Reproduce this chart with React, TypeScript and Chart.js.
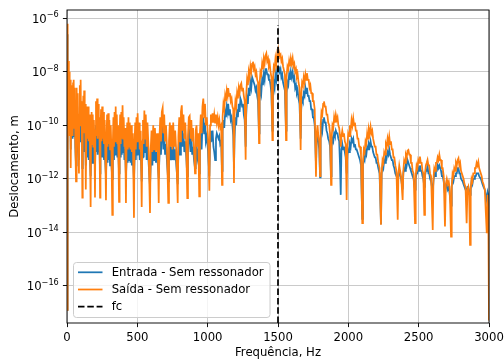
import React, { useEffect, useRef } from 'react';
import { Chart, registerables } from 'chart.js';

Chart.register(...registerables);

// Frequency grid (Hz), one line per lobe between notches
const freqHz: number[] = [
  0, 2, 5, 7, 10, 13, 16, 19, 22, 25,
  28, 31, 34, 37, 40, 43, 46, 49, 52, 55, 59,
  64, 67, 70, 73, 76, 80,
  85, 88, 91, 94, 97, 100, 104,
  109, 112, 116, 119, 122, 126, 129, 132,
  135, 138, 142, 146, 150, 154, 158, 163,
  168, 171, 175, 179, 183, 187, 191, 195,
  199, 202, 206, 210, 214, 218, 222, 226, 230,
  235, 238, 242, 246, 250, 254, 258, 263, 268, 272,
  277, 281, 285, 289, 293, 297, 301, 306, 311, 316,
  322, 326, 330, 334, 338, 342, 346, 350, 354, 358, 363,
  370, 374, 378, 382, 386, 390, 395, 399, 403, 408, 413,
  419, 423, 428, 432, 437, 441, 446, 451, 456, 461, 468,
  476, 480, 485, 489, 494, 498, 502, 507, 512, 517, 524,
  531, 535, 540, 545, 550, 555, 560, 566, 572, 580,
  590, 595, 601, 607, 613, 619, 625, 632, 640, 646,
  652, 657, 663, 668, 674, 680, 685, 691, 697, 704, 711,
  720, 725, 731, 737, 743, 749, 755, 762, 769, 777,
  787, 792, 798, 804, 810, 816, 822, 828, 834, 841, 848,
  855, 860, 866, 872, 878, 884, 890, 896, 903,
  910, 915, 921, 927, 933,
  940, 945, 951, 957, 963, 969, 975, 981, 987, 994, 1003,
  1012, 1017, 1023, 1029, 1035, 1041, 1047, 1053, 1059, 1065, 1071, 1077, 1083, 1089, 1096,
  1102, 1106, 1112, 1118, 1124, 1130, 1136, 1142, 1146, 1152, 1158, 1164, 1170, 1176, 1182,
  1187, 1191, 1197, 1203, 1209, 1215, 1221, 1227, 1233, 1239, 1245, 1251, 1257, 1263,
  1270, 1274, 1280, 1286, 1292, 1298, 1304, 1310, 1316, 1322, 1328, 1334, 1340, 1346, 1352, 1358,
  1365, 1369, 1375, 1381, 1387, 1393, 1399, 1405, 1411, 1417, 1423, 1429, 1435, 1441, 1447, 1453,
  1460, 1464, 1470, 1476, 1482, 1488, 1494, 1500, 1506, 1512, 1518, 1524, 1530, 1536, 1542, 1549,
  1557, 1561, 1567, 1573, 1579, 1585, 1591, 1597, 1604, 1610, 1616, 1622, 1628, 1634, 1640, 1646, 1653,
  1661, 1665, 1671, 1677, 1683, 1689, 1695, 1701, 1706, 1712, 1718, 1724, 1730, 1736, 1742, 1748, 1754, 1761,
  1770, 1775, 1781, 1787, 1793,
  1799, 1803, 1809, 1815, 1821, 1827, 1833, 1839, 1845, 1851, 1857, 1864, 1870,
  1877, 1881, 1887, 1893, 1899, 1905, 1911, 1917, 1923, 1929, 1935, 1941,
  1946, 1951, 1957, 1963, 1969, 1975, 1981,
  1988, 1993, 1999, 2005, 2011, 2017, 2023, 2029, 2035, 2041, 2047, 2053, 2059, 2065, 2071, 2077, 2083, 2090,
  2099, 2104, 2110, 2116, 2122, 2128, 2134, 2140, 2146, 2152, 2158, 2164, 2170, 2176, 2182, 2188, 2194, 2200, 2206, 2213, 2222,
  2232, 2237, 2243, 2249, 2255, 2261, 2267, 2273, 2279, 2285, 2291, 2297, 2303, 2309, 2315, 2321, 2327, 2334, 2342,
  2351, 2356, 2362, 2368, 2375,
  2386, 2391, 2397, 2403, 2409, 2415, 2421, 2427, 2433, 2439, 2445, 2451, 2457, 2464,
  2474, 2479, 2485, 2491, 2497, 2503, 2509, 2515, 2521, 2527, 2533,
  2540, 2545, 2551, 2557, 2563, 2569, 2575, 2581, 2588,
  2600, 2605, 2611, 2617, 2623, 2629, 2635, 2641, 2647, 2653, 2659, 2665, 2671, 2678,
  2687, 2693, 2700, 2707, 2714, 2721,
  2730, 2735, 2741, 2747, 2753, 2759, 2765, 2771, 2777, 2783, 2789, 2795, 2801, 2807, 2813, 2819, 2826, 2833,
  2841, 2847, 2853, 2859,
  2865, 2870, 2876, 2882, 2888, 2894, 2900, 2906, 2912, 2918, 2924, 2930, 2936, 2942, 2948, 2954, 2961, 2970,
  2984, 2990, 2995, 3000,
];

// log10 of displacement (m) – "Saída - Sem ressonador"
const saidaLog: number[] = [
  -16.9, -6.2, -9.5, -11.3, -7.6, -9.8, -8.0, -10.4, -8.3, -9.9,
  -11.6, -8.6, -10.0, -8.5, -10.4, -8.4, -9.8, -8.3, -10.1, -8.6, -10.6,
  -12.1, -9.6, -8.6, -10.0, -8.8, -10.4,
  -11.8, -9.6, -8.5, -9.9, -8.3, -10.0, -9.1,
  -12.7, -9.8, -8.9, -10.3, -8.7, -10.2, -9.2, -10.4,
  -12.4, -10.0, -9.3, -10.5, -9.3, -10.6, -9.6, -10.7,
  -13.05, -10.4, -9.5, -10.7, -9.6, -10.8, -9.8, -10.6,
  -12.7, -10.2, -9.1, -10.4, -9.0, -10.5, -9.2, -10.4, -9.7,
  -12.7, -10.3, -9.4, -10.6, -9.3, -10.5, -9.5, -10.7, -9.8, -10.9,
  -12.8, -10.5, -9.6, -10.8, -9.55, -10.7, -9.8, -10.9, -10.0, -11.0,
  -13.35, -10.6, -9.7, -10.8, -9.5, -10.6, -9.3, -10.5, -9.6, -10.7, -10.0,
  -12.86, -10.4, -9.6, -10.7, -9.5, -10.5, -9.25, -10.5, -9.7, -10.8, -10.1,
  -12.9, -10.8, -9.9, -10.9, -9.7, -10.8, -9.9, -10.9, -10.0, -11.0, -10.3,
  -13.46, -10.7, -9.9, -10.9, -9.7, -10.6, -9.55, -10.6, -9.9, -10.9, -10.2,
  -13.05, -10.6, -9.8, -10.7, -9.45, -10.5, -9.6, -10.8, -9.9, -10.9,
  -13.28, -10.9, -10.2, -11.0, -10.0, -10.9, -10.1, -11.0, -10.3, -11.0,
  -12.9, -10.5, -9.7, -10.6, -9.5, -9.35, -10.3, -9.6, -10.6, -10.0, -10.9,
  -12.9, -10.6, -9.9, -10.8, -10.0, -10.9, -9.9, -10.8, -10.2, -11.0,
  -12.9, -10.4, -9.7, -10.6, -9.5, -9.25, -10.2, -9.6, -10.5, -9.9, -10.8,
  -12.72, -10.4, -9.7, -9.65, -10.5, -9.8, -10.6, -10.1, -10.9,
  -11.8, -10.2, -10.0, -10.8, -10.3,
  -12.66, -10.3, -9.6, -10.3, -9.3, -9.0, -9.7, -9.2, -10.0, -9.7, -10.5,
  -12.45, -10.0, -9.6, -9.9, -9.55, -9.9, -9.6, -9.9, -9.6, -9.9, -9.7, -10.0, -9.8, -10.1, -10.0,
  -12.23, -9.7, -9.2, -9.4, -8.9, -9.1, -8.7, -8.9, -8.61, -8.9, -8.8, -9.1, -9.0, -9.3, -9.4,
  -12.16, -9.6, -9.1, -9.3, -8.8, -9.0, -8.6, -8.8, -8.5, -8.43, -8.7, -8.6, -8.9, -9.1,
  -11.29, -8.9, -8.3, -8.5, -8.0, -8.2, -7.8, -8.0, -7.7, -7.62, -7.9, -7.8, -8.1, -8.0, -8.3, -8.4,
  -10.67, -8.5, -8.0, -8.1, -7.7, -7.9, -7.5, -7.7, -7.4, -7.31, -7.6, -7.5, -7.8, -7.7, -8.0, -8.2,
  -10.55, -8.3, -7.8, -7.9, -7.5, -7.7, -7.35, -7.5, -7.25, -7.4, -7.35, -7.6, -7.5, -7.8, -7.8, -8.1,
  -10.55, -8.2, -7.8, -7.9, -7.6, -7.8, -7.5, -7.7, -7.49, -7.8, -7.7, -8.0, -7.9, -8.2, -8.1, -8.4, -8.6,
  -10.92, -8.9, -8.4, -8.5, -8.2, -8.4, -8.1, -8.3, -8.05, -8.3, -8.3, -8.6, -8.5, -8.8, -8.8, -9.1, -9.1, -9.4,
  -11.92, -10.3, -10.0, -10.4, -10.6,
  -11.9, -10.0, -9.5, -9.6, -9.2, -9.11, -9.3, -9.3, -9.6, -9.6, -9.9, -10.0, -10.3,
  -12.23, -10.5, -10.0, -10.1, -9.7, -9.9, -9.61, -9.8, -9.7, -10.0, -10.1, -10.4,
  -10.8, -10.4, -10.2, -10.4, -10.3, -10.6, -10.7,
  -12.79, -10.8, -10.3, -10.4, -10.0, -10.2, -9.8, -10.0, -9.74, -10.0, -9.9, -10.2, -10.2, -10.5, -10.5, -10.8, -10.8, -11.1,
  -13.66, -11.4, -10.9, -11.0, -10.6, -10.7, -10.3, -10.5, -10.15, -10.3, -10.05, -10.3, -10.2, -10.5, -10.5, -10.8, -10.8, -11.1, -11.1, -11.4, -11.6,
  -13.72, -11.8, -11.3, -11.4, -11.0, -11.1, -10.7, -10.8, -10.5, -10.7, -10.42, -10.7, -10.6, -10.9, -10.9, -11.2, -11.2, -11.5, -11.7,
  -13.53, -11.8, -11.5, -11.7, -11.9,
  -12.79, -11.7, -11.3, -11.4, -11.1, -11.2, -10.95, -10.92, -11.1, -11.1, -11.4, -11.4, -11.7, -11.8,
  -13.66, -11.9, -11.5, -11.6, -11.3, -11.4, -11.17, -11.4, -11.4, -11.7, -11.8,
  -13.35, -11.8, -11.5, -11.4, -11.29, -11.5, -11.5, -11.8, -11.9,
  -13.91, -12.0, -11.6, -11.7, -11.4, -11.4, -11.2, -11.3, -11.1, -11.3, -11.3, -11.6, -11.6, -11.9,
  -13.78, -12.2, -12.0, -12.2, -12.1, -12.4,
  -14.16, -12.3, -11.8, -11.9, -11.6, -11.7, -11.4, -11.5, -11.3, -11.23, -11.5, -11.4, -11.7, -11.7, -11.9, -12.0, -12.2, -12.3,
  -13.66, -12.4, -12.3, -12.6,
  -14.47, -12.4, -12.0, -12.1, -11.8, -11.8, -11.6, -11.6, -11.4, -11.5, -11.36, -11.6, -11.6, -11.8, -11.9, -12.1, -12.2, -12.4,
  -14.03, -12.6, -13.2, -17.3,
];

// log10 of displacement (m) – "Entrada - Sem ressonador"
const entradaLog: number[] = [
  -16.9, -6.6, -9.3, -10.8, -8.0, -9.6, -8.5, -10.1, -8.7, -10.0,
  -10.9, -9.0, -10.2, -9.1, -10.5, -9.0, -10.2, -8.9, -10.4, -9.2, -10.8,
  -11.5, -10.3, -9.3, -10.6, -9.6, -10.8,
  -11.3, -10.3, -9.3, -10.6, -9.1, -10.5, -9.8,
  -11.6, -10.6, -9.8, -11.0, -9.6, -11.0, -10.0, -10.8,
  -11.5, -10.8, -10.3, -11.2, -10.2, -11.3, -10.4, -11.3,
  -11.9, -11.1, -10.4, -11.4, -10.4, -11.4, -10.6, -11.1,
  -11.6, -10.9, -10.0, -11.0, -9.9, -11.1, -10.1, -11.0, -10.6,
  -11.8, -11.0, -10.3, -11.2, -10.2, -11.2, -10.4, -11.3, -10.7, -11.4,
  -11.9, -11.2, -10.4, -11.4, -10.4, -11.3, -10.6, -11.5, -10.8, -11.5,
  -12.0, -11.3, -10.5, -11.3, -10.3, -11.1, -10.0, -11.1, -10.4, -11.2, -10.8,
  -11.8, -11.0, -10.3, -11.2, -10.2, -11.1, -9.9, -11.0, -10.5, -11.3, -10.9,
  -11.9, -11.4, -10.6, -11.4, -10.5, -11.3, -10.6, -11.4, -10.8, -11.5, -11.0,
  -12.1, -11.3, -10.6, -11.3, -10.4, -11.1, -10.1, -11.1, -10.6, -11.3, -11.0,
  -12.1, -11.2, -10.5, -11.2, -10.0, -11.0, -10.3, -11.3, -10.6, -11.4,
  -12.3, -11.5, -10.9, -11.5, -10.6, -11.3, -10.8, -11.4, -11.0, -11.5,
  -12.0, -11.2, -10.4, -11.1, -10.2, -9.9, -10.9, -10.3, -11.1, -10.7, -11.4,
  -12.1, -11.3, -10.7, -11.3, -10.8, -11.3, -10.6, -11.3, -10.9, -11.5,
  -12.2, -11.0, -10.4, -11.1, -10.2, -9.8, -10.8, -10.3, -11.0, -10.6, -11.2,
  -11.9, -11.1, -10.3, -10.2, -11.0, -10.4, -11.1, -10.8, -11.3,
  -11.6, -10.9, -10.7, -11.2, -11.0,
  -11.8, -11.0, -10.3, -10.9, -10.0, -9.7, -10.3, -9.9, -10.6, -10.4, -11.0,
  -11.9, -10.6, -10.2, -10.6, -10.2, -10.8, -11.0, -11.3, -10.5, -10.3, -10.4, -10.5, -10.4, -10.7, -10.6,
  -11.7, -10.2, -9.8, -10.1, -9.5, -9.7, -9.3, -9.5, -9.2, -9.6, -9.4, -9.8, -9.7, -10.0, -10.4,
  -11.6, -10.5, -9.7, -10.0, -9.4, -9.7, -9.2, -9.5, -9.0, -9.1, -9.3, -9.2, -9.6, -9.8,
  -10.8, -9.6, -9.0, -9.2, -8.6, -8.9, -8.4, -8.6, -8.2, -8.2, -8.4, -8.5, -8.7, -8.6, -8.9, -9.1,
  -10.3, -9.1, -8.6, -8.8, -8.3, -8.5, -8.1, -8.3, -7.9, -7.9, -8.1, -8.1, -8.3, -8.3, -8.5, -8.8,
  -10.2, -8.9, -8.4, -8.6, -8.1, -8.3, -7.9, -8.0, -7.8, -8.0, -7.9, -8.2, -8.1, -8.4, -8.4, -8.7,
  -10.2, -8.8, -8.4, -8.5, -8.1, -8.3, -8.0, -8.2, -8.0, -8.3, -8.2, -8.6, -8.5, -8.8, -8.7, -9.0, -9.2,
  -10.5, -9.4, -9.0, -9.1, -8.8, -8.9, -8.6, -8.8, -8.6, -8.9, -8.9, -9.1, -9.1, -9.4, -9.4, -9.7, -9.7, -10.0,
  -11.5, -10.5, -10.4, -10.6, -10.9,
  -11.95, -10.5, -10.0, -10.2, -9.8, -9.7, -9.9, -9.9, -10.2, -10.3, -10.5, -10.6, -10.8,
  -11.9, -10.8, -10.5, -10.6, -10.3, -10.4, -10.2, -10.3, -10.3, -10.5, -10.6, -11.5,
  -12.6, -10.9, -10.7, -10.9, -10.8, -11.0, -11.2,
  -11.8, -11.1, -10.9, -11.0, -10.7, -10.8, -10.5, -10.6, -10.5, -10.8, -10.7, -10.9, -10.9, -11.0, -11.1, -11.2, -11.3, -11.5,
  -13.5, -11.5, -11.2, -11.3, -11.0, -11.1, -10.8, -10.9, -10.7, -10.8, -10.6, -10.8, -10.8, -11.0, -11.0, -11.2, -11.2, -11.4, -11.4, -11.6, -11.8,
  -13.7, -11.8, -11.5, -11.6, -11.3, -11.4, -11.1, -11.2, -11.0, -11.1, -10.9, -11.1, -11.1, -11.3, -11.3, -11.5, -11.6, -11.8, -11.9,
  -12.0, -11.8, -11.7, -11.9, -12.0,
  -12.4, -11.8, -11.6, -11.7, -11.4, -11.5, -11.3, -11.4, -11.5, -11.6, -11.7, -11.8, -11.9, -12.0,
  -12.4, -12.0, -11.8, -11.8, -11.6, -11.7, -11.5, -11.7, -11.7, -11.9, -12.0,
  -12.3, -11.9, -11.7, -11.7, -11.5, -11.8, -11.8, -12.0, -12.1,
  -12.5, -12.1, -11.8, -11.9, -11.7, -11.7, -11.5, -11.6, -11.5, -11.6, -11.7, -11.9, -11.9, -12.1,
  -12.6, -12.3, -12.2, -12.4, -12.3, -12.6,
  -13.0, -12.3, -12.0, -12.1, -11.9, -11.9, -11.8, -11.8, -11.6, -11.6, -11.8, -11.8, -12.0, -12.0, -12.1, -12.2, -12.3, -12.4,
  -12.4, -12.3, -12.3, -12.5,
  -12.6, -12.4, -12.1, -12.2, -12.0, -12.0, -11.9, -11.9, -11.8, -11.8, -11.8, -11.9, -11.9, -12.0, -12.1, -12.2, -12.3, -12.4,
  -12.8, -12.5, -12.6, -13.3,
];

const fcHz = 1500;
const fcTopLog = -6.25;
const yMinLog = -17.39;
const yMaxLog = -5.69;
const xTickValues = [0, 500, 1000, 1500, 2000, 2500, 3000];
const yTickExps = [-16, -14, -12, -10, -8, -6];
const legendLabels = ['Entrada - Sem ressonador', 'Saída - Sem ressonador', 'fc'];

const BLUE = '#1f77b4';
const ORANGE = '#ff7f0e';
const FONT = "'DejaVu Sans', sans-serif";
const FS = 11.67;

const mplPlugin = {
  id: 'mplDecor',
  afterDatasetsDraw(chart: any) {
    const { ctx, chartArea: a } = chart;
    ctx.save();
    ctx.strokeStyle = '#000';
    ctx.lineWidth = 0.93;
    ctx.strokeRect(a.left, a.top, a.right - a.left, a.bottom - a.top);
    ctx.restore();
  },
  afterDraw(chart: any) {
    const { ctx } = chart;
    const ys = chart.scales.y;
    ctx.save();
    ctx.fillStyle = '#000';
    ctx.textBaseline = 'alphabetic';
    ctx.textAlign = 'left';
    const right = 58.8;
    for (const e of yTickExps) {
      const py = ys.getPixelForValue(Math.pow(10, e));
      const exp = '\u2212' + String(Math.abs(e));
      ctx.font = `8.17px ${FONT}`;
      const we = ctx.measureText(exp).width;
      ctx.font = `${FS}px ${FONT}`;
      const wb = ctx.measureText('10').width;
      ctx.fillText('10', right - we - wb, py + 4.4);
      ctx.font = `8.17px ${FONT}`;
      ctx.fillText(exp, right - we, py - 0.9);
    }
    // legend
    const bx = 73.5, by = 262.5, bw = 196.5, bh = 55, r = 3;
    ctx.beginPath();
    ctx.moveTo(bx + r, by);
    ctx.lineTo(bx + bw - r, by);
    ctx.arcTo(bx + bw, by, bx + bw, by + r, r);
    ctx.lineTo(bx + bw, by + bh - r);
    ctx.arcTo(bx + bw, by + bh, bx + bw - r, by + bh, r);
    ctx.lineTo(bx + r, by + bh);
    ctx.arcTo(bx, by + bh, bx, by + bh - r, r);
    ctx.lineTo(bx, by + r);
    ctx.arcTo(bx, by, bx + r, by, r);
    ctx.closePath();
    ctx.fillStyle = 'rgba(255,255,255,0.8)';
    ctx.fill();
    ctx.strokeStyle = '#cccccc';
    ctx.lineWidth = 1;
    ctx.stroke();
    const rows = [272.3, 289.5, 306.7];
    const cols = [BLUE, ORANGE, '#000'];
    for (let i = 0; i < 3; i++) {
      ctx.beginPath();
      ctx.strokeStyle = cols[i];
      ctx.lineWidth = 1.75;
      ctx.setLineDash(i === 2 ? [6.5, 2.8] : []);
      ctx.moveTo(78, rows[i]);
      ctx.lineTo(102.5, rows[i]);
      ctx.stroke();
      ctx.setLineDash([]);
      ctx.fillStyle = '#000';
      ctx.font = `${FS}px ${FONT}`;
      ctx.textBaseline = 'middle';
      ctx.fillText(legendLabels[i], 111.7, rows[i] + 0.5);
    }
    ctx.restore();
  },
};

export default function App() {
  const ref = useRef<HTMLCanvasElement | null>(null);
  useEffect(() => {
    if (!ref.current) return;
    const n = Math.min(freqHz.length, saidaLog.length, entradaLog.length);
    const toPts = (vals: number[]) => {
      const out: { x: number; y: number }[] = [];
      for (let i = 0; i < n; i++) out.push({ x: freqHz[i], y: Math.pow(10, vals[i]) });
      return out;
    };
    const gridOpts = {
      color: '#c6c6c6',
      lineWidth: 0.93,
      tickLength: 4.1,
      tickColor: '#000',
      tickWidth: 0.93,
    };
    const chart = new Chart(ref.current, {
      type: 'line',
      data: {
        datasets: [
          {
            label: legendLabels[2],
            data: [
              { x: fcHz, y: Math.pow(10, yMinLog) },
              { x: fcHz, y: Math.pow(10, fcTopLog) },
            ],
            borderColor: '#000',
            borderWidth: 1.75,
            borderDash: [6.5, 2.8],
            pointRadius: 0,
            order: 0,
          },
          {
            label: legendLabels[1],
            data: toPts(saidaLog),
            borderColor: ORANGE,
            borderWidth: 1.75,
            pointRadius: 0,
            order: 1,
          },
          {
            label: legendLabels[0],
            data: toPts(entradaLog),
            borderColor: BLUE,
            borderWidth: 1.75,
            pointRadius: 0,
            order: 2,
          },
        ],
      },
      options: {
        animation: false,
        responsive: false,
        devicePixelRatio: 1,
        layout: { padding: { left: 0, right: 15, top: 10, bottom: 0 } },
        plugins: { legend: { display: false }, tooltip: { enabled: false } },
        elements: { line: { tension: 0 } },
        scales: {
          x: {
            type: 'linear',
            min: 0,
            max: 3000,
            afterBuildTicks: (s: any) => {
              s.ticks = xTickValues.map((v) => ({ value: v }));
            },
            afterFit: (s: any) => {
              s.height = 40;
              s.paddingLeft = 0;
              s.paddingRight = 0;
            },
            ticks: {
              color: '#000',
              font: { family: FONT, size: FS },
              maxRotation: 0,
              padding: 3.5,
              autoSkip: false,
              callback: (v: any) => String(v),
            },
            grid: gridOpts,
            border: { display: false },
            title: {
              display: true,
              text: 'Frequência, Hz',
              color: '#000',
              font: { family: FONT, size: FS },
              padding: { top: 0, bottom: 3 },
            },
          },
          y: {
            type: 'logarithmic',
            min: Math.pow(10, yMinLog),
            max: Math.pow(10, yMaxLog),
            afterBuildTicks: (s: any) => {
              s.ticks = yTickExps.map((e) => ({ value: Math.pow(10, e) }));
            },
            afterFit: (s: any) => {
              s.width = 67;
              s.paddingTop = 0;
              s.paddingBottom = 0;
            },
            ticks: { display: false },
            grid: gridOpts,
            border: { display: false },
            title: {
              display: true,
              text: 'Deslocamento, m',
              color: '#000',
              font: { family: FONT, size: FS },
              padding: { top: 7.5, bottom: 0 },
            },
          },
        },
      } as any,
      plugins: [mplPlugin],
    });
    return () => chart.destroy();
  }, []);
  return (
    <div style={{ position: 'fixed', left: 0, top: 0, width: 504, height: 363, background: '#fff' }}>
      <canvas ref={ref} width={504} height={363} style={{ display: 'block' }} />
    </div>
  );
}
